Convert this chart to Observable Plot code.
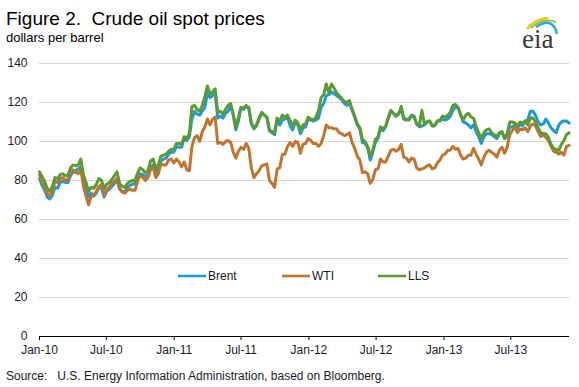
<!DOCTYPE html>
<html><head><meta charset="utf-8">
<script src="https://cdn.jsdelivr.net/npm/d3@7"></script>
<script src="https://cdn.jsdelivr.net/npm/@observablehq/plot@0.6"></script>
<style>
html,body{margin:0;padding:0;background:#fff;}
#wrap{position:relative;width:579px;height:387px;overflow:hidden;}
#wrap svg{position:absolute;left:0;top:0;}
</style></head><body>
<div id="wrap"></div>
<script>
const startDate = "2010-01-01";
const endDate = "2013-12-07";
const seriesNames = ["Brent", "WTI", "LLS"];
const seriesColors = ["#1b9ad6", "#c0752e", "#5e9a34"];
const tickDates = ["2010-01-01","2010-07-01","2011-01-01","2011-07-01","2012-01-01","2012-07-01","2013-01-01","2013-07-01"];
const yTicks = [0, 20, 40, 60, 80, 100, 120, 140];

// weekly values, dollars per barrel
const brent = [
81.0,77.5,75.0,71.5,70.5,72.5,76.5,76.0,79.0,79.5,79.0,79.0,82.5,84.5,85.0,86.0,87.0,80.0,77.0,71.5,73.5,72.0,73.5,76.5,76.0,71.5,74.5,75.5,77.0,78.5,80.5,75.5,74.5,74.0,76.5,77.5,78.0,78.5,82.0,83.5,83.0,82.0,83.0,86.5,88.0,84.0,85.5,90.0,91.0,91.5,93.5,94.5,
94.5,97.5,97.0,97.0,101.5,100.5,102.5,111.5,115.5,114.0,113.5,115.5,117.5,125.0,122.5,123.5,125.0,112.0,113.0,112.0,114.5,115.5,118.0,113.5,106.0,110.5,117.5,116.5,118.0,117.0,109.0,106.5,108.0,111.5,114.5,113.5,112.5,105.5,104.5,103.5,111.5,108.5,111.0,111.5,112.5,108.0,106.0,110.0,108.5,104.0,107.0,107.5,
111.5,111.0,110.5,111.0,112.0,117.5,119.5,123.5,124.0,125.5,124.5,123.5,122.5,121.5,119.5,118.5,119.5,116.0,112.5,108.5,106.5,99.5,99.0,97.0,90.5,94.5,99.5,101.5,106.5,105.5,107.5,112.0,115.5,114.5,113.0,114.5,116.5,111.5,111.0,111.5,113.5,113.0,109.0,107.5,108.0,108.5,110.0,110.5,108.0,108.0,110.5,110.5,
111.5,111.0,111.5,113.0,116.0,117.5,117.5,114.0,110.0,109.5,108.5,107.0,108.5,105.0,102.5,99.0,102.5,104.0,104.0,103.5,102.5,101.5,104.0,105.0,101.5,102.5,107.5,107.5,108.5,107.0,109.0,108.0,110.5,111.0,115.5,115.5,113.5,110.0,108.5,109.0,111.5,109.5,107.0,105.5,104.5,108.5,110.0,110.5,110.5,
109.5];
const wti = [
82.8,79.5,77.0,73.5,72.0,74.5,79.5,79.0,81.0,81.5,80.0,80.5,84.5,85.5,84.0,83.5,85.5,77.0,72.0,67.5,72.0,72.5,74.5,77.0,78.0,72.5,75.5,76.5,78.5,79.5,81.0,76.0,74.0,73.5,75.0,75.5,75.0,75.0,80.0,82.5,81.5,80.0,81.5,85.5,87.0,81.5,83.5,88.5,88.0,88.0,90.5,91.0,
89.0,91.0,89.5,87.0,89.5,85.5,85.0,97.5,102.0,103.0,100.0,105.0,107.5,111.5,108.5,111.5,112.5,99.0,99.5,98.5,100.0,100.5,99.5,94.5,91.5,95.0,97.0,96.0,99.0,96.5,86.5,81.5,83.5,85.0,87.5,88.0,88.5,80.0,78.5,76.5,86.0,86.5,93.5,93.5,97.5,99.5,97.5,100.0,99.5,94.0,98.5,99.0,
101.5,100.5,99.0,99.0,97.5,99.0,103.0,108.5,107.0,107.0,106.5,106.5,104.5,104.0,103.0,103.5,104.5,99.5,96.5,92.5,90.5,84.0,84.5,83.5,78.5,80.5,85.5,86.0,91.0,89.5,89.5,92.5,95.5,96.0,95.0,96.0,98.5,92.0,91.5,89.5,91.5,91.0,86.5,85.5,86.0,86.5,87.5,88.0,86.0,86.5,89.0,90.5,
93.0,93.5,95.5,95.5,97.5,96.0,96.5,93.0,91.0,91.5,93.0,93.0,96.5,93.5,91.0,88.0,92.0,94.5,95.5,94.5,93.5,92.0,95.5,97.0,94.0,97.0,103.5,105.5,107.5,104.5,106.5,106.0,107.0,105.0,108.0,109.0,108.0,105.0,102.5,103.5,102.0,100.5,97.5,95.0,94.5,93.5,94.5,93.0,97.5,
98.0];
const lls = [
84.5,82.0,79.5,76.0,74.5,77.0,81.5,81.0,83.0,83.5,82.5,82.5,86.5,88.0,87.5,88.0,91.0,83.0,79.0,74.5,76.5,76.0,78.0,81.0,80.0,76.0,78.0,79.0,80.5,82.5,84.5,78.5,77.0,76.5,78.5,79.5,80.0,80.0,84.0,86.5,85.5,84.0,85.0,90.0,91.0,86.0,88.0,92.5,93.0,93.5,95.0,96.0,
96.0,99.0,99.0,98.5,102.5,101.5,104.0,118.0,118.5,116.5,115.5,118.5,123.0,128.5,124.5,125.5,127.0,115.0,115.5,114.0,116.5,118.5,119.5,114.0,107.0,112.5,117.5,117.0,118.5,117.5,109.5,107.0,108.5,112.0,115.0,113.5,112.5,106.0,105.0,105.0,112.0,110.5,113.5,112.5,113.5,110.5,108.0,111.0,109.5,106.0,108.5,109.0,
112.5,111.5,111.0,112.5,116.0,122.5,124.0,129.5,125.0,129.5,127.5,125.0,123.5,122.0,120.5,120.0,121.0,116.5,113.0,109.0,107.0,101.0,100.0,97.5,92.5,95.5,101.0,102.5,107.5,106.5,108.0,112.5,116.0,114.5,113.0,114.0,118.0,112.0,111.5,111.0,113.0,112.5,109.0,108.0,116.0,109.0,110.0,110.5,108.0,108.5,110.5,111.0,
113.0,112.5,113.5,115.0,118.5,119.0,117.5,113.5,111.0,113.5,114.5,112.5,112.0,107.5,104.5,101.5,104.5,106.0,106.5,104.5,103.5,102.5,104.5,105.0,101.5,104.0,110.0,110.0,109.5,108.0,110.0,109.5,110.5,108.5,112.0,112.0,110.0,107.0,104.5,104.0,104.0,102.0,98.5,96.5,96.0,95.5,98.5,100.5,103.5,
104.5];

const start = new Date(startDate);
const dates = brent.map((_, i) => d3.utcDay.offset(start, 7 * i));
const seriesValues = [brent, wti, lls];
const rows = seriesNames.map((name, s) => seriesValues[s].map((v, i) => ({date: dates[i], value: v, series: name})));

const font = "Liberation Sans, Arial, sans-serif";
const chart = Plot.plot({
  width: 579, height: 387,
  marginLeft: 39, marginRight: 10, marginTop: 63, marginBottom: 51,
  style: {fontFamily: font, fontSize: "12px", color: "#1a1a2a", background: "transparent"},
  x: {type: "utc", domain: [start, new Date(endDate)]},
  y: {domain: [0, 140]},
  color: {domain: seriesNames, range: seriesColors},
  marks: [
    Plot.gridY({ticks: yTicks, stroke: "#d6d6d6", strokeOpacity: 1}),
    Plot.axisY({ticks: yTicks, tickSize: 0, tickPadding: 12, label: null}),
    Plot.axisX({ticks: tickDates.map(d => new Date(d)), tickSize: 4, tickPadding: 5, tickFormat: d3.utcFormat("%b-%y"), label: null, stroke: "#000"}),
    Plot.ruleY([0], {stroke: "#000", strokeWidth: 1}),
    ...rows.map(r => Plot.line(r, {x: "date", y: "value", stroke: "series", strokeWidth: 3, strokeLinejoin: "round"}))
  ]
});
const wrap = document.getElementById("wrap");
wrap.appendChild(chart);

// overlay: title, subtitle, legend, source, logo
const ov = d3.select(wrap).append("svg").attr("width", 579).attr("height", 387)
  .style("font-family", font).style("pointer-events", "none");
ov.append("text").attr("x", 6).attr("y", 25).attr("font-size", 19)
  .attr("fill", "#000").style("white-space", "pre").text("Figure 2.  Crude oil spot prices");
ov.append("text").attr("x", 6).attr("y", 42).attr("font-size", 13).attr("fill", "#000")
  .text("dollars per barrel");
ov.append("text").attr("x", 6).attr("y", 380).attr("font-size", 12).attr("fill", "#1a1a2a")
  .style("white-space", "pre").text("Source:   U.S. Energy Information Administration, based on Bloomberg.");

const legendX = [178, 282, 378];
seriesNames.forEach((name, i) => {
  ov.append("line").attr("x1", legendX[i]).attr("x2", legendX[i] + 28).attr("y1", 276).attr("y2", 276)
    .attr("stroke", seriesColors[i]).attr("stroke-width", 2.6);
  ov.append("text").attr("x", legendX[i] + 30).attr("y", 280).attr("font-size", 12).attr("fill", "#1a1a2a").text(name);
});

// eia logo
const logo = ov.append("g");
logo.append("path").attr("d", "M527,29 Q535,19 548,18").attr("fill", "none").attr("stroke", "#f3c214").attr("stroke-width", 2.5);
logo.append("path").attr("d", "M531,28 Q543,17 556,22").attr("fill", "none").attr("stroke", "#8cc63f").attr("stroke-width", 2);
logo.append("path").attr("d", "M536,27 Q553,16 557,34").attr("fill", "none").attr("stroke", "#27a9e1").attr("stroke-width", 2.5);
logo.append("text").attr("x", 522).attr("y", 48).attr("font-family", "Liberation Serif, Times New Roman, serif")
  .attr("font-size", 27).attr("fill", "#3b3b3b").text("eia");
</script>
</body></html>
